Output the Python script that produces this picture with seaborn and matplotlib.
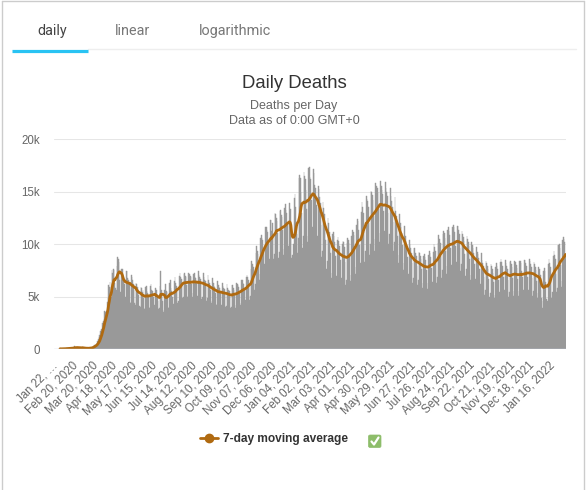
import numpy as np
import pandas as pd
import matplotlib
matplotlib.use("Agg")
import matplotlib.pyplot as plt
import seaborn as sns
from matplotlib.lines import Line2D
from matplotlib.patches import FancyBboxPatch
from matplotlib.transforms import ScaledTranslation

# ---------------- data (thousands of deaths per day) ----------------
start_date = "2020-01-22"
deaths_k = [
    0.02, 0.01, 0.02, 0.02, 0.02, 0.03, 0.03,
    0.04, 0.04, 0.05, 0.05, 0.06, 0.06, 0.07,
    0.07, 0.07, 0.09, 0.09, 0.10, 0.11, 0.10,
    0.25, 0.12, 0.14, 0.14, 0.11, 0.10, 0.14,
    0.12, 0.12, 0.11, 0.10, 0.10, 0.15, 0.07,
    0.06, 0.05, 0.06, 0.07, 0.07, 0.07, 0.08,
    0.10, 0.10, 0.10, 0.10, 0.11, 0.20, 0.22,
    0.30, 0.35, 0.40, 0.40, 0.43, 0.60, 0.75,
    0.95, 1.1, 1.3, 1.7, 1.7, 1.9, 2.5,
    2.7, 2.9, 3.6, 3.5, 3.4, 3.6, 4.5,
    4.9, 6.1, 5.9, 6.4, 5.0, 5.0, 7.5,
    7.3, 7.6, 7.5, 6.3, 5.8, 5.6, 7.9,
    8.8, 8.6, 8.3, 6.6, 5.4, 5.2, 7.6,
    7.6, 7.0, 6.8, 6.2, 4.6, 5.0, 7.4,
    7.4, 6.8, 6.6, 6.2, 4.5, 4.4, 7.1,
    6.9, 6.6, 6.2, 5.6, 4.4, 4.2, 6.3,
    6.2, 5.9, 5.7, 5.2, 4.1, 4.0, 5.9,
    5.8, 5.4, 5.6, 4.9, 3.8, 3.9, 5.9,
    6.0, 5.5, 5.3, 5.0, 4.0, 3.9, 6.0,
    6.2, 5.6, 5.5, 5.0, 4.1, 4.2, 5.8,
    5.5, 5.6, 5.2, 4.6, 3.8, 3.9, 6.0,
    7.4, 5.6, 5.3, 4.6, 3.5, 3.7, 5.6,
    6.2, 5.5, 5.4, 5.0, 3.9, 4.0, 6.3,
    6.6, 5.8, 5.5, 5.0, 4.2, 4.3, 6.5,
    6.9, 6.3, 6.0, 5.6, 4.4, 4.6, 7.0,
    7.3, 6.9, 6.7, 6.2, 4.9, 5.0, 7.2,
    7.3, 7.0, 6.9, 6.1, 5.0, 5.1, 7.3,
    7.2, 7.0, 6.9, 6.2, 5.0, 5.3, 7.2,
    7.3, 6.9, 6.8, 6.3, 4.9, 5.1, 7.4,
    7.1, 6.9, 6.7, 6.1, 4.8, 5.0, 7.3,
    6.9, 6.6, 6.5, 5.9, 4.6, 4.9, 7.1,
    6.6, 6.3, 6.1, 5.6, 4.4, 4.6, 6.8,
    6.3, 6.0, 5.9, 5.3, 4.2, 4.3, 6.5,
    6.1, 5.9, 5.8, 5.3, 4.1, 4.2, 6.3,
    6.0, 5.8, 5.7, 5.2, 4.0, 4.1, 6.2,
    5.8, 5.6, 5.5, 5.1, 3.9, 4.0, 6.1,
    6.1, 5.8, 5.6, 5.2, 3.9, 4.2, 6.3,
    6.2, 6.1, 5.9, 5.4, 4.2, 4.4, 6.6,
    6.6, 6.3, 6.2, 5.7, 4.4, 4.7, 6.9,
    7.1, 6.9, 6.6, 6.1, 4.7, 5.1, 7.6,
    8.4, 8.1, 7.8, 7.3, 5.6, 6.2, 9.2,
    9.8, 9.4, 9.1, 8.4, 6.6, 7.2, 10.6,
    10.9, 10.6, 10.4, 9.6, 7.6, 8.1, 11.6,
    11.6, 11.4, 11.2, 10.2, 8.1, 8.6, 12.3,
    12.3, 11.3, 12.0, 10.9, 8.6, 9.1, 13.0,
    12.9, 12.5, 12.2, 11.1, 8.7, 9.3, 13.2,
    13.3, 12.8, 12.6, 11.4, 9.0, 9.5, 13.5,
    13.8, 13.3, 13.0, 11.9, 9.3, 9.8, 13.9,
    13.4, 11.5, 8.7, 9.0, 8.3, 10.0, 14.4,
    14.8, 13.6, 11.6, 11.0, 9.2, 10.6, 16.3,
    16.6, 16.3, 15.0, 13.0, 9.6, 10.8, 16.9,
    16.5, 16.2, 15.2, 13.4, 10.2, 10.8, 17.3,
    17.4, 16.4, 16.2, 14.2, 10.6, 11.6, 17.2,
    16.8, 15.7, 15.4, 13.7, 9.8, 10.8, 15.6,
    15.3, 14.5, 13.9, 11.8, 8.8, 9.4, 14.0,
    13.5, 12.9, 12.0, 10.4, 7.6, 8.4, 12.5,
    12.0, 11.2, 10.8, 9.2, 6.8, 7.3, 11.0,
    11.2, 10.8, 10.2, 8.9, 6.6, 7.0, 10.4,
    10.7, 10.3, 9.8, 8.5, 6.3, 6.8, 10.0,
    10.3, 10.2, 9.7, 8.3, 6.1, 6.6, 10.1,
    10.6, 10.4, 10.1, 8.8, 6.5, 7.1, 10.8,
    11.4, 11.2, 10.9, 9.6, 7.2, 7.8, 11.8,
    12.4, 12.2, 11.4, 9.9, 7.4, 8.2, 13.1,
    14.0, 13.6, 13.0, 11.2, 8.3, 9.4, 14.6,
    14.3, 14.1, 13.6, 12.0, 9.0, 10.0, 15.1,
    15.0, 14.7, 14.2, 12.7, 9.4, 10.5, 15.8,
    15.6, 15.4, 15.0, 13.4, 10.2, 11.1, 16.0,
    15.6, 15.2, 14.8, 13.2, 10.2, 11.3, 15.9,
    15.4, 15.0, 14.6, 13.0, 10.0, 11.0, 15.4,
    14.6, 14.1, 13.6, 12.1, 9.4, 10.2, 14.5,
    13.2, 12.7, 12.3, 10.8, 8.2, 9.0, 12.9,
    12.0, 11.6, 11.1, 9.9, 7.5, 8.2, 11.7,
    10.8, 10.3, 9.9, 8.8, 6.7, 7.2, 10.4,
    10.0, 9.6, 9.2, 8.2, 6.3, 6.8, 9.6,
    9.6, 9.2, 8.9, 7.9, 6.1, 6.6, 9.3,
    9.2, 8.9, 8.6, 7.6, 5.8, 6.3, 8.9,
    9.1, 8.8, 8.5, 7.5, 5.7, 6.3, 9.0,
    9.4, 9.2, 8.8, 7.7, 5.9, 6.4, 9.3,
    10.0, 9.7, 9.4, 8.2, 6.3, 6.9, 10.1,
    10.9, 10.5, 10.1, 8.9, 6.8, 7.5, 11.0,
    11.3, 11.1, 10.6, 9.4, 7.2, 7.9, 11.4,
    11.6, 11.3, 10.9, 9.6, 7.3, 8.0, 11.6,
    11.8, 11.6, 11.2, 9.8, 7.6, 8.3, 11.7,
    11.7, 11.4, 11.0, 9.6, 7.4, 8.1, 11.3,
    11.0, 10.7, 10.3, 9.1, 7.0, 7.6, 10.8,
    10.5, 10.2, 9.8, 8.6, 6.6, 7.1, 10.2,
    9.9, 9.6, 9.2, 8.1, 6.2, 6.7, 9.7,
    9.3, 9.1, 8.7, 7.6, 5.8, 6.2, 9.2,
    8.5, 8.2, 7.9, 6.9, 5.2, 5.6, 8.4,
    8.2, 7.9, 7.6, 6.7, 5.0, 5.3, 8.1,
    7.9, 7.6, 7.3, 6.4, 4.9, 5.2, 7.8,
    8.2, 7.9, 7.6, 6.6, 5.0, 5.4, 8.3,
    8.6, 8.3, 7.9, 6.9, 5.2, 5.6, 8.5,
    8.2, 7.9, 7.6, 6.6, 5.0, 5.4, 8.3,
    8.4, 8.1, 7.8, 6.8, 5.1, 5.5, 8.4,
    8.3, 8.0, 7.7, 6.7, 5.1, 5.5, 8.4,
    8.4, 8.2, 7.4, 6.9, 5.2, 5.6, 8.5,
    8.5, 8.2, 7.9, 6.9, 5.2, 5.6, 8.6,
    8.4, 8.1, 7.8, 6.8, 5.1, 5.5, 8.3,
    8.1, 7.8, 7.5, 6.5, 4.9, 5.3, 7.8,
    7.6, 7.1, 5.6, 4.9, 3.9, 4.6, 7.4,
    7.7, 7.4, 6.4, 4.8, 3.7, 4.6, 8.1,
    8.6, 8.2, 7.8, 6.5, 4.9, 5.4, 8.9,
    9.4, 9.0, 8.6, 7.2, 5.4, 5.8, 9.9,
    9.9, 10.0, 9.6, 8.0, 5.9, 6.5, 10.4,
    10.7, 10.5, 10.2, 9.0,
]
y_ticks = [0, 5, 10, 15, 20]
y_tick_labels = ["0", "5k", "10k", "15k", "20k"]
tick_step_days = 29
first_tick_label = "Jan 22, \u2026"
tabs = ["daily", "linear", "logarithmic"]
title = "Daily Deaths"
subtitle_lines = ["Deaths per Day", "Data as of 0:00 GMT+0"]
legend_label = "7-day moving average"

# ---------------- styling ----------------
W, H = 586, 490
BAR_COLOR = "#999999"
LINE_COLOR = "#b06a10"
sns.set_style("white")
plt.rcParams["font.family"] = ["Liberation Sans", "DejaVu Sans"]

def fx(x):
    return x / W

def fy(y):
    return 1 - y / H

fig = plt.figure(figsize=(W / 100, H / 100), dpi=100)
fig.patch.set_facecolor("white")

# plot area in pixels: x 54..566, y 139.5..349
ax = fig.add_axes([fx(54), fy(349), (566 - 54) / W, (349 - 139.5) / H])

dates = pd.date_range(start_date, periods=len(deaths_k))
df = pd.DataFrame({"day": np.arange(len(deaths_k)), "deaths": deaths_k})
df["avg"] = df["deaths"].rolling(7, min_periods=1).mean()

sns.barplot(data=df, x="day", y="deaths", native_scale=True, width=1.0,
            color=BAR_COLOR, saturation=1, errorbar=None,
            edgecolor=BAR_COLOR, linewidth=0.3, ax=ax)
sns.lineplot(data=df, x="day", y="avg", color=LINE_COLOR, linewidth=2.0,
             ax=ax, legend=False, solid_capstyle="round")

ax.set_xlim(-8.8, len(deaths_k) - 0.3)
ax.set_ylim(0, 20)
ax.set_xlabel("")
ax.set_ylabel("")
for s in ax.spines.values():
    s.set_visible(False)
ax.set_axisbelow(True)
ax.yaxis.grid(True, color="#e6e6e6", linewidth=0.75)
ax.xaxis.grid(False)
ax.axhline(0, color="#ccd6eb", linewidth=1.0, zorder=5)

ax.set_yticks(y_ticks)
ax.set_yticklabels(y_tick_labels, color="#666666", fontsize=8.3)
ax.tick_params(axis="y", length=0, pad=10)

tick_pos = list(range(0, len(deaths_k), tick_step_days))
tick_lbl = [dates[i].strftime("%b %d, %Y") for i in tick_pos]
tick_lbl[0] = first_tick_label
ax.set_xticks(tick_pos)
ax.set_xticklabels(tick_lbl, rotation=45, ha="right", va="center",
                   rotation_mode="anchor", color="#666666", fontsize=8.3)
ax.tick_params(axis="x", length=0, pad=7)
shift = ScaledTranslation(-4 / 100, -5 / 100, fig.dpi_scale_trans)
for lbl in ax.get_xticklabels():
    lbl.set_transform(lbl.get_transform() + shift)

# ---------------- page chrome ----------------
border = "#cccccc"
fig.add_artist(Line2D([fx(2), fx(2)], [fy(1), fy(H + 2)], color=border, lw=1))
fig.add_artist(Line2D([fx(2), fx(584)], [fy(1), fy(1)], color=border, lw=1))
fig.add_artist(Line2D([fx(584), fx(584)], [fy(1), fy(H + 2)], color=border, lw=1))

tab_x = [52, 133, 235]
tab_colors = ["#444444", "#777777", "#777777"]
for t, x, c in zip(tabs, tab_x, tab_colors):
    fig.text(fx(x), fy(31), t, ha="center", va="center", fontsize=10.4,
             color=c, family=["Roboto", "DejaVu Sans"])
fig.add_artist(Line2D([fx(88), fx(576)], [fy(49.5), fy(49.5)], color="#eeeeee", lw=1))
fig.add_artist(Line2D([fx(12), fx(88)], [fy(51.5), fy(51.5)], color="#29c3f3", lw=2.3,
                      solid_capstyle="butt"))

fig.text(fx(294), fy(83), title, ha="center", va="center", fontsize=13.3, color="#333333")
fig.text(fx(294), fy(105.5), subtitle_lines[0], ha="center", va="center", fontsize=9, color="#666666")
fig.text(fx(294), fy(120.5), subtitle_lines[1], ha="center", va="center", fontsize=9, color="#666666")

# legend
proxy = Line2D([], [], color=LINE_COLOR, lw=2.0, marker="o", markersize=6,
               markerfacecolor=LINE_COLOR, markeredgecolor=LINE_COLOR)
leg = fig.legend(handles=[proxy], labels=[legend_label], loc="center",
                 bbox_to_anchor=(fx(274), fy(439)), frameon=False,
                 handlelength=1.5, handletextpad=0.35,
                 prop={"weight": "bold", "size": 8.6})
for txt in leg.get_texts():
    txt.set_color("#333333")

box = FancyBboxPatch((fx(368.5), fy(447.5)), fx(12.5), (12.5) / H,
                     boxstyle="round,pad=0,rounding_size=0.003",
                     transform=fig.transFigure, facecolor="#8dbd6a",
                     edgecolor="#8dbd6a", lw=0.5)
fig.add_artist(box)
fig.add_artist(Line2D([fx(371.5), fx(374), fx(378.5)], [fy(441.5), fy(444.5), fy(437.5)],
                      color="white", lw=1.6, solid_capstyle="round", solid_joinstyle="round"))

fig.savefig("out.png", dpi=100, facecolor="white")
